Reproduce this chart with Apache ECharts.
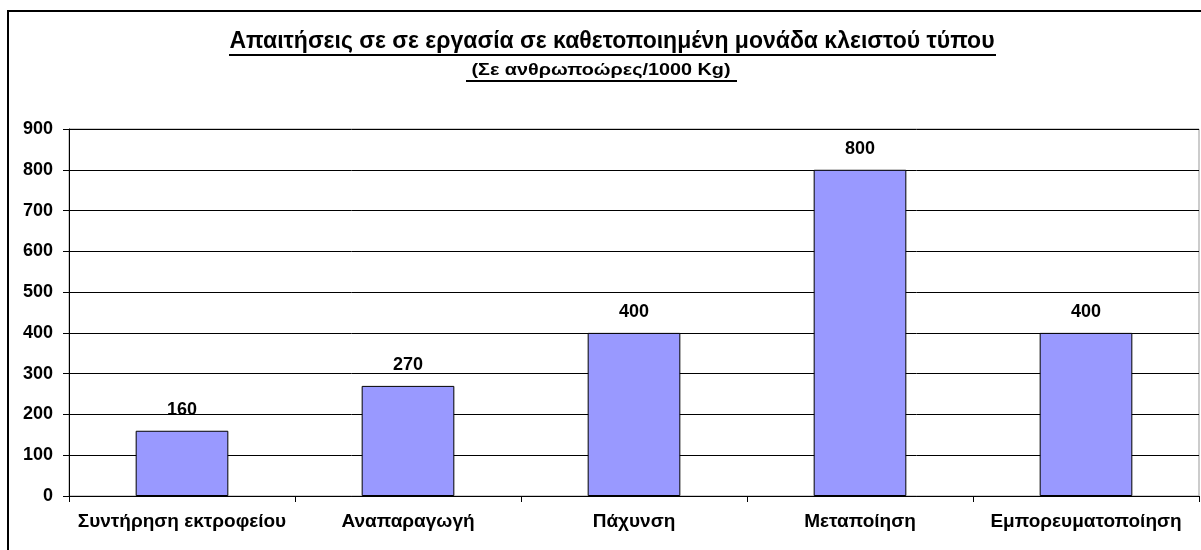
<!DOCTYPE html>
<html><head><meta charset="utf-8">
<script src="https://cdn.jsdelivr.net/npm/echarts@6/dist/echarts.min.js"></script>
<style>html,body{margin:0;padding:0;background:#fff}#c{width:1201px;height:550px}</style>
</head><body><div id="c"></div>
<script>
const titleText = 'Απαιτήσεις σε σε εργασία σε καθετοποιημένη μονάδα κλειστού τύπου';
const subtitleText = '(Σε ανθρωποώρες/1000 Kg)';
const categories = ['Συντήρηση εκτροφείου', 'Αναπαραγωγή', 'Πάχυνση', 'Μεταποίηση', 'Εμπορευματοποίηση'];
const values = [160, 270, 400, 800, 400];
const yMin = 0, yMax = 900, yStep = 100;

const chart = echarts.init(document.getElementById('c'), null, {renderer: 'canvas'});
const font = 'Liberation Sans, Arial, sans-serif';
chart.setOption({
  animation: false,
  backgroundColor: '#fff',
  grid: {left: 69, right: 2, top: 129, bottom: 54, show: true, borderColor: '#999', borderWidth: 1},
  graphic: [
    {type: 'rect', shape: {x: 8, y: 11, width: 1220, height: 560}, style: {fill: 'none', stroke: '#000', lineWidth: 2}, z: 0},
    {type: 'text', x: 612, y: 42, style: {text: titleText, font: 'bold 23px Liberation Sans, Arial, sans-serif', fill: '#000', textAlign: 'center', textVerticalAlign: 'middle'}},
    {type: 'text', x: 601, y: 70, scaleX: 1.2, style: {text: subtitleText, font: 'bold 16.5px Liberation Sans, Arial, sans-serif', fill: '#000', textAlign: 'center', textVerticalAlign: 'middle'}},
    {type: 'line', shape: {x1: 229, y1: 55, x2: 996, y2: 55}, style: {stroke: '#000', lineWidth: 2}},
    {type: 'line', shape: {x1: 466, y1: 81, x2: 737, y2: 81}, style: {stroke: '#000', lineWidth: 2}}
  ],
  xAxis: {
    type: 'category', data: categories,
    axisLine: {lineStyle: {color: '#000', width: 1}},
    axisTick: {show: true, alignWithLabel: false, length: 6, lineStyle: {color: '#000'}},
    axisLabel: {color: '#000', fontFamily: font, fontWeight: 'bold', fontSize: 19, margin: 16, interval: 0}
  },
  yAxis: {
    type: 'value', min: yMin, max: yMax, interval: yStep,
    axisLine: {show: true, lineStyle: {color: '#000', width: 1}},
    axisTick: {show: true, length: 6, lineStyle: {color: '#000'}},
    splitLine: {show: true, lineStyle: {color: '#000', width: 1}},
    axisLabel: {color: '#000', fontFamily: font, fontWeight: 'bold', fontSize: 18, margin: 16}
  },
  series: [{
    type: 'bar', data: values, barWidth: '41%',
    itemStyle: {color: '#9999FF', borderColor: '#000', borderWidth: 1},
    label: {show: true, position: 'top', distance: 12, color: '#000', fontFamily: font, fontWeight: 'bold', fontSize: 18}
  }]
});
</script></body></html>
